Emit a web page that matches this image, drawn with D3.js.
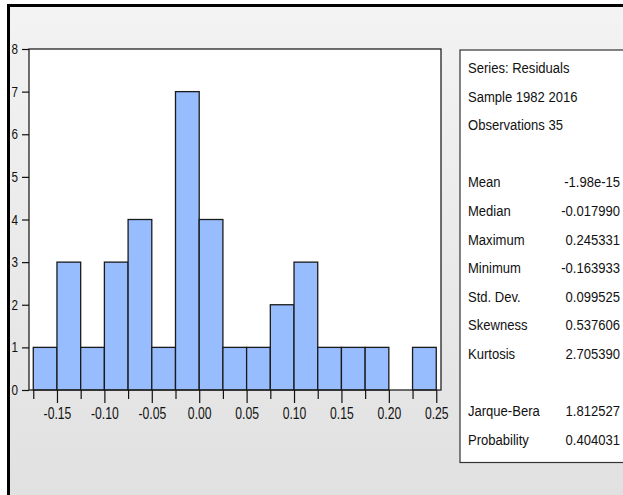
<!DOCTYPE html>
<html>
<head>
<meta charset="utf-8">
<script src="https://cdn.jsdelivr.net/npm/d3@7"></script>
<style>
  html, body { margin: 0; padding: 0; background: #fff; }
  svg { display: block; }
  text { font-family: "Liberation Sans", Arial, sans-serif; fill: #111; }
</style>
</head>
<body>
<svg id="chart" width="623" height="495"></svg>
<script>
// Histogram of residuals: bin edges (width 0.025) and counts per bin
const binStarts = [-0.175, -0.15, -0.125, -0.10, -0.075, -0.05, -0.025, 0.00, 0.025,
                   0.05, 0.075, 0.10, 0.125, 0.15, 0.175, 0.20, 0.225];
const binWidth = 0.025;
const counts = [1, 3, 1, 3, 4, 1, 7, 4, 1, 1, 2, 3, 1, 1, 1, 0, 1];

const xMajorTicks = [-0.15, -0.10, -0.05, 0.00, 0.05, 0.10, 0.15, 0.20, 0.25];
const xMinorTicks = [-0.175, -0.125, -0.075, -0.025, 0.025, 0.075, 0.125, 0.175, 0.225];
const yTicks = [0, 1, 2, 3, 4, 5, 6, 7, 8];

// Descriptive statistics panel
const headerLines = ["Series: Residuals", "Sample 1982 2016", "Observations 35"];
const statNames = ["Mean", "Median", "Maximum", "Minimum", "Std. Dev.", "Skewness", "Kurtosis"];
const statValues = ["-1.98e-15", "-0.017990", "0.245331", "-0.163933", "0.099525", "0.537606", "2.705390"];
const testNames = ["Jarque-Bera", "Probability"];
const testValues = ["1.812527", "0.404031"];

const svg = d3.select("#chart");

// window background with gradient and dark top/left borders
const defs = svg.append("defs");
const grad = defs.append("linearGradient").attr("id", "bg")
  .attr("x1", 0).attr("y1", 0).attr("x2", 0).attr("y2", 1);
grad.append("stop").attr("offset", "0%").attr("stop-color", "#f3f3f3");
grad.append("stop").attr("offset", "100%").attr("stop-color", "#e1e1e1");

svg.append("rect").attr("x", 0).attr("y", 0).attr("width", 623).attr("height", 495).attr("fill", "#fff");
svg.append("rect").attr("x", 7).attr("y", 4).attr("width", 616).attr("height", 491).attr("fill", "url(#bg)");
svg.append("rect").attr("x", 7).attr("y", 4).attr("width", 616).attr("height", 3).attr("fill", "#000");
svg.append("rect").attr("x", 7).attr("y", 4).attr("width", 3).attr("height", 491).attr("fill", "#000");

// plot area
const plot = { left: 29, right: 441, top: 49, bottom: 390 };
const x = d3.scaleLinear().domain([-0.1795, 0.255]).range([plot.left, plot.right]);
const y = d3.scaleLinear().domain([0, 8]).range([plot.bottom, plot.top]);

svg.append("rect")
  .attr("x", plot.left).attr("y", plot.top)
  .attr("width", plot.right - plot.left).attr("height", plot.bottom - plot.top)
  .attr("fill", "#fff");

// bars
svg.append("g").selectAll("rect")
  .data(binStarts.map((s, i) => ({ s, c: counts[i] })).filter(d => d.c > 0))
  .join("rect")
  .attr("x", d => x(d.s))
  .attr("y", d => y(d.c))
  .attr("width", d => x(d.s + binWidth) - x(d.s))
  .attr("height", d => y(0) - y(d.c))
  .attr("fill", "#98bdff")
  .attr("stroke", "#1a1a1a")
  .attr("stroke-width", 1.3);

// frame
svg.append("rect")
  .attr("x", plot.left).attr("y", plot.top)
  .attr("width", plot.right - plot.left).attr("height", plot.bottom - plot.top)
  .attr("fill", "none").attr("stroke", "#222").attr("stroke-width", 1.3);

const fmt = v => d3.format(".2f")(v).replace("\u2212", "-");

// x axis: labelled major ticks and shorter minor ticks
const xAxis = svg.append("g")
  .attr("transform", `translate(0,${plot.bottom})`)
  .call(d3.axisBottom(x).tickValues(xMajorTicks).tickSize(13).tickFormat(fmt));
xAxis.select(".domain").remove();
xAxis.selectAll(".tick line").attr("stroke", "#111").attr("stroke-width", 1.2);
xAxis.selectAll(".tick text")
  .attr("y", 0).attr("dy", null)
  .attr("font-size", 16)
  .attr("font-family", "'Liberation Sans', Arial, sans-serif")
  .attr("fill", "#111")
  .attr("transform", "translate(0,28.5) scale(0.76,1)");

const xMinor = svg.append("g")
  .attr("transform", `translate(0,${plot.bottom})`)
  .call(d3.axisBottom(x).tickValues(xMinorTicks).tickSize(9).tickFormat(""));
xMinor.select(".domain").remove();
xMinor.selectAll(".tick line").attr("stroke", "#111").attr("stroke-width", 1.2);

// y axis
const yAxis = svg.append("g")
  .attr("transform", `translate(${plot.left},0)`)
  .call(d3.axisLeft(y).tickValues(yTicks).tickSize(7).tickFormat(d3.format("d")));
yAxis.select(".domain").remove();
yAxis.selectAll(".tick line").attr("stroke", "#111").attr("stroke-width", 1.2);
yAxis.selectAll(".tick text")
  .attr("x", 0).attr("dy", null)
  .attr("text-anchor", "end")
  .attr("font-size", 15)
  .attr("font-family", "'Liberation Sans', Arial, sans-serif")
  .attr("fill", "#111")
  .attr("transform", "translate(-11,4.5) scale(0.78,1)");

// statistics panel
svg.append("rect")
  .attr("x", 460).attr("y", 50).attr("width", 200).attr("height", 412.5)
  .attr("fill", "#fff").attr("stroke", "#333").attr("stroke-width", 1.2);

const rowY = i => 68 + 28.6 * i + 5;
const panel = svg.append("g").attr("font-size", 14.5);

// place a text item with a slightly condensed face
function putText(sel, xPos, rowOf, anchor) {
  sel.attr("text-anchor", anchor)
    .attr("transform", (d, i) => `translate(${xPos},${rowY(rowOf(i))}) scale(0.9,1)`)
    .text(d => d);
}

putText(panel.selectAll("text.head").data(headerLines).join("text").attr("class", "head"),
  468, i => i, "start");
putText(panel.selectAll("text.sname").data(statNames).join("text").attr("class", "sname"),
  468, i => 4 + i, "start");
putText(panel.selectAll("text.sval").data(statValues).join("text").attr("class", "sval"),
  620, i => 4 + i, "end");
putText(panel.selectAll("text.tname").data(testNames).join("text").attr("class", "tname"),
  468, i => 12 + i, "start");
putText(panel.selectAll("text.tval").data(testValues).join("text").attr("class", "tval"),
  620, i => 12 + i, "end");
</script>
</body>
</html>
